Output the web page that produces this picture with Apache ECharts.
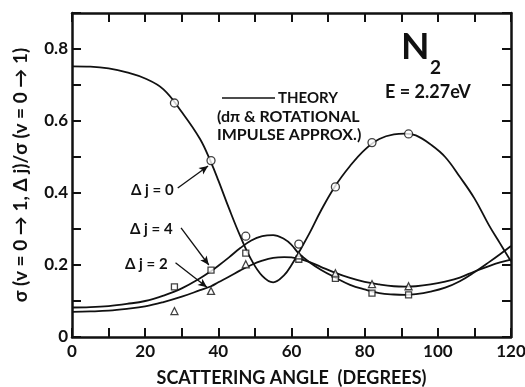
<!DOCTYPE html>
<html>
<head>
<meta charset="utf-8">
<script src="https://cdn.jsdelivr.net/npm/echarts@6/dist/echarts.min.js"></script>
<style>
  html, body { margin: 0; padding: 0; background: #fff; }
  #chart { width: 525px; height: 387px; }
</style>
</head>
<body>
<div id="chart"></div>
<script>
// measured points (scattering angle, degrees)
var pointAngles = [28, 38, 47.5, 62, 72, 82, 92];
var dj0Points = [0.65, 0.49, 0.28, 0.258, 0.417, 0.54, 0.564];
var dj4Points = [0.139, 0.186, 0.233, 0.216, 0.163, 0.122, 0.117];
var dj2Points = [0.072, 0.128, 0.202, 0.227, 0.177, 0.147, 0.141];

// theory curves (dπ & rotational impulse approx.)
var theoryAngles = [0, 5, 10, 15, 20, 25, 30, 35, 38, 40, 43, 46, 49, 52, 55, 58, 60, 62, 65, 68,
                    72, 76, 80, 84, 88, 91, 94, 98, 102, 106, 110, 114, 117, 120];
var dj0Theory = [0.752, 0.751, 0.746, 0.735, 0.718, 0.688, 0.625, 0.55, 0.485, 0.435, 0.355, 0.28, 0.215, 0.17, 0.152, 0.172, 0.2, 0.235, 0.29, 0.35,
                 0.42, 0.475, 0.52, 0.55, 0.563, 0.565, 0.56, 0.535, 0.5, 0.445, 0.385, 0.31, 0.26, 0.21];
var dj4Theory = [0.082, 0.083, 0.086, 0.092, 0.1, 0.115, 0.135, 0.163, 0.183, 0.198, 0.222, 0.247, 0.268, 0.28, 0.283, 0.272, 0.256, 0.232, 0.207, 0.187,
                 0.165, 0.145, 0.132, 0.122, 0.118, 0.117, 0.119, 0.126, 0.137, 0.155, 0.18, 0.208, 0.23, 0.253];
var dj2Theory = [0.07, 0.071, 0.073, 0.078, 0.085, 0.097, 0.112, 0.13, 0.141, 0.152, 0.168, 0.185, 0.2, 0.212, 0.22, 0.222, 0.221, 0.218, 0.208, 0.195,
                 0.178, 0.164, 0.153, 0.146, 0.141, 0.14, 0.141, 0.146, 0.154, 0.165, 0.182, 0.197, 0.207, 0.215];

var xTicks = { min: 0, max: 120, interval: 10 };
var yTicks = { min: 0, max: 0.9, interval: 0.1 };

var FONT = 'Lato';

function pairs(xs, ys) {
    return xs.map(function (x, i) { return [x, ys[i]]; });
}

var chart = echarts.init(document.getElementById('chart'), null, { renderer: 'canvas' });

var axisLineStyle = { show: true, onZero: false, lineStyle: { color: '#111', width: 2.5 } };
var tickStyle = { show: true, inside: true, length: 9, lineStyle: { color: '#111', width: 2 } };

function xLabel(v) { return v % 20 === 0 ? String(v) : ''; }
function yLabel(v) {
    var k = Math.round(v * 10);
    if (k % 2 !== 0) return '';
    return k === 0 ? '0' : (k / 10).toFixed(1);
}

function arrow(from, to) {
    return [{ coord: from, symbol: 'none' }, { coord: to, symbol: 'arrow', symbolSize: [6, 9] }];
}

function note(x, y, text, size) {
    return { type: 'text', x: x, y: y, style: { text: text, font: 'bold ' + size + 'px ' + FONT, fill: '#111', verticalAlign: 'middle' } };
}

var marker = { color: '#fff', borderColor: '#111', borderWidth: 1.3 };

var option = {
    backgroundColor: '#fff',
    animation: false,
    grid: { left: 72, right: 14, top: 13, bottom: 50, containLabel: false, outerBoundsMode: 'none' },
    xAxis: [{
        type: 'value', position: 'bottom',
        min: xTicks.min, max: xTicks.max, interval: xTicks.interval,
        name: 'SCATTERING ANGLE  (DEGREES)', nameLocation: 'middle', nameGap: 32,
        nameTextStyle: { fontFamily: FONT, fontWeight: 'bold', fontSize: 18, color: '#111' },
        axisLine: axisLineStyle,
        axisTick: tickStyle,
        splitLine: { show: false },
        axisLabel: { formatter: xLabel, margin: 6, fontFamily: FONT, fontWeight: 'bold', fontSize: 17, color: '#111' }
    }, {
        type: 'value', position: 'top',
        min: xTicks.min, max: xTicks.max, interval: xTicks.interval,
        axisLine: axisLineStyle,
        axisTick: tickStyle,
        splitLine: { show: false },
        axisLabel: { show: false }
    }],
    yAxis: [{
        type: 'value', position: 'left',
        min: yTicks.min, max: yTicks.max, interval: yTicks.interval,
        name: 'σ (v = 0 → 1, Δ j)/σ (v = 0 → 1)', nameLocation: 'middle', nameGap: 42, nameRotate: 90,
        nameTextStyle: { fontFamily: FONT, fontWeight: 'bold', fontSize: 19, color: '#111' },
        axisLine: axisLineStyle,
        axisTick: tickStyle,
        splitLine: { show: false },
        axisLabel: { formatter: yLabel, margin: 4, fontFamily: FONT, fontWeight: 'bold', fontSize: 17, color: '#111' }
    }, {
        type: 'value', position: 'right',
        min: yTicks.min, max: yTicks.max, interval: yTicks.interval,
        axisLine: axisLineStyle,
        axisTick: tickStyle,
        splitLine: { show: false },
        axisLabel: { show: false }
    }],
    series: [{
        name: 'Δj=0 theory', type: 'line', smooth: 0.4, symbol: 'none',
        data: pairs(theoryAngles, dj0Theory),
        lineStyle: { color: '#111', width: 1.8 },
        markLine: {
            silent: true, label: { show: false },
            lineStyle: { color: '#111', width: 1.3, type: 'solid' },
            data: [arrow([28.9, 0.414], [37.2, 0.475])]
        }
    }, {
        name: 'Δj=4 theory', type: 'line', smooth: 0.4, symbol: 'none',
        data: pairs(theoryAngles, dj4Theory),
        lineStyle: { color: '#111', width: 1.8 },
        markLine: {
            silent: true, label: { show: false },
            lineStyle: { color: '#111', width: 1.3, type: 'solid' },
            data: [arrow([29.8, 0.303], [37.4, 0.2])]
        }
    }, {
        name: 'Δj=2 theory', type: 'line', smooth: 0.4, symbol: 'none',
        data: pairs(theoryAngles, dj2Theory),
        lineStyle: { color: '#111', width: 1.8 },
        markLine: {
            silent: true, label: { show: false },
            lineStyle: { color: '#111', width: 1.3, type: 'solid' },
            data: [arrow([28.3, 0.206], [36.9, 0.138])]
        }
    }, {
        name: 'Δj=0', type: 'scatter', symbol: 'circle', symbolSize: 8,
        data: pairs(pointAngles, dj0Points), itemStyle: marker, z: 5
    }, {
        name: 'Δj=4', type: 'scatter', symbol: 'rect', symbolSize: 6,
        data: pairs(pointAngles, dj4Points), itemStyle: marker, z: 5
    }, {
        name: 'Δj=2', type: 'scatter', symbol: 'triangle', symbolSize: 7,
        data: pairs(pointAngles, dj2Points), itemStyle: marker, z: 5
    }],
    graphic: [
        { type: 'line', shape: { x1: 222, y1: 98, x2: 275, y2: 98 }, style: { stroke: '#111', lineWidth: 1.5 } },
        note(278, 98, 'THEORY', 15),
        note(217, 117, '(dπ & ROTATIONAL', 16),
        note(217, 135, 'IMPULSE APPROX.)', 16),
        note(401, 47, 'N', 37),
        note(430, 68, '2', 19),
        note(385, 92, 'E = 2.27eV', 18),
        note(131, 190, 'Δ j = 0', 15),
        note(130, 229, 'Δ j = 4', 15),
        note(125, 264, 'Δ j = 2', 15)
    ]
};

chart.setOption(option);
window.addEventListener('resize', function () { chart.resize(); });
</script>
</body>
</html>
